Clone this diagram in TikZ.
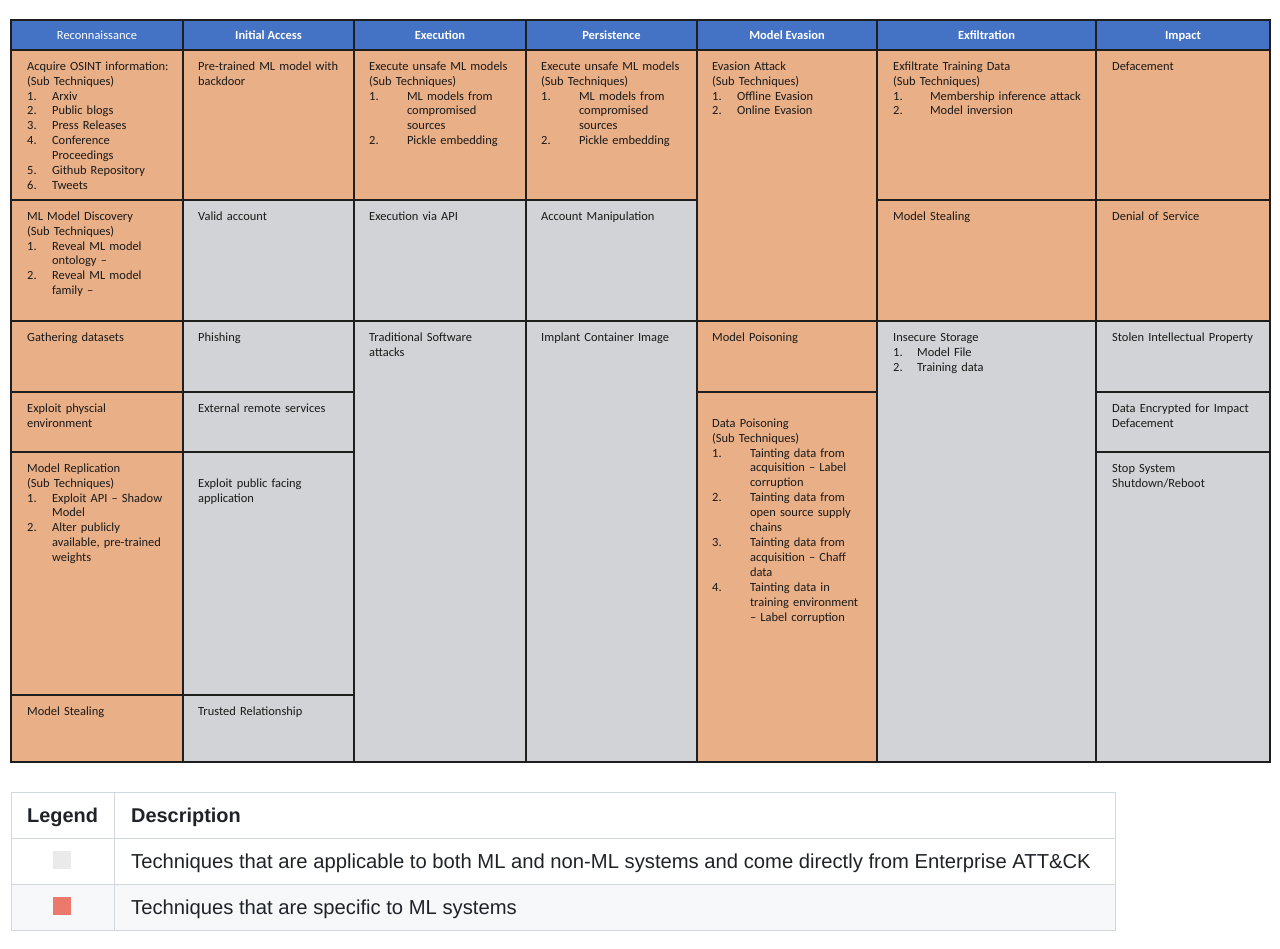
\documentclass[tikz,border=0pt]{standalone}
\usepackage{fontspec}
\setmainfont{Carlito}
\newfontfamily\ghfont{Liberation Sans}
\usepackage{xcolor}
\usepackage{tikz}

\definecolor{hdrblue}{HTML}{4472C4}
\definecolor{mlorange}{HTML}{E9AF87}
\definecolor{entgray}{HTML}{D2D3D6}
\definecolor{gridline}{HTML}{1E1E1E}
\definecolor{celltext}{HTML}{1A1A1A}
\definecolor{ghborder}{HTML}{D0D7DE}
\definecolor{ghrow}{HTML}{F6F8FA}
\definecolor{ghtext}{HTML}{1F2328}
\definecolor{keygray}{HTML}{EAEAEA}
\definecolor{keyred}{HTML}{EB7A6C}

% numbered sub technique: indent, number, lines
\newcommand{\tnum}[3][25pt]{\par\noindent
  \makebox[#1][l]{\rule{0pt}{10.5pt}#2}%
  \parbox[t]{\dimexpr\linewidth-#1\relax}{\raggedright #3\rule[-3.5pt]{0pt}{3.5pt}}}

\begin{document}
\begin{tikzpicture}[
  x = 1bp, y = -1bp,
  cell/.style = {draw = gridline, line width = 1.3pt},
  mlcell/.style = {cell, fill = mlorange},
  entcell/.style = {cell, fill = entgray},
  hdrcell/.style = {cell, fill = hdrblue},
  hdrtext/.style = {anchor = base, inner sep = 0pt, text = white,
                    font = \fontsize{12.5}{15}\selectfont},
  txt/.style = {anchor = north west, inner sep = 0pt, align = left,
                text width = #1, text = celltext,
                font = \fontsize{12.5}{15}\selectfont,
                execute at begin node = \rule{0pt}{10.5pt}},
  txt/.default = 146pt,
  ghline/.style = {draw = ghborder, line width = 1pt},
  ghtxt/.style = {anchor = base west, inner sep = 0pt, text = ghtext,
                  font = \ghfont\fontsize{20.3}{24}\selectfont},
  keybox/.style = {minimum size = 18bp, inner sep = 0pt}
  ]
  \useasboundingbox[fill = white] (0,0) rectangle (1280,949);

  % header row
  \foreach \xa/\xb/\name [count = \i] in {11/183/Reconnaissance,
      183/354/\textbf{Initial Access}, 354/526/\textbf{Execution},
      526/697/\textbf{Persistence}, 697/877/\textbf{Model Evasion},
      877/1096/\textbf{Exfiltration}, 1096/1270/\textbf{Impact}}
  {
    \draw[hdrcell] (\xa,20) rectangle (\xb,50);
    \node[hdrtext] (h\i) at ({(\xa+\xb)/2},39.5) {\name};
  }

  % technique cells
  \foreach \xa/\ya/\xb/\yb/\kind in {
      11/50/183/200/mlcell, 11/200/183/321/mlcell, 11/321/183/392/mlcell,
      11/392/183/452/mlcell, 11/452/183/695/mlcell, 11/695/183/762/mlcell,
      183/50/354/200/mlcell, 183/200/354/321/entcell, 183/321/354/392/entcell,
      183/392/354/452/entcell, 183/452/354/695/entcell, 183/695/354/762/entcell,
      354/50/526/200/mlcell, 354/200/526/321/entcell, 354/321/526/762/entcell,
      526/50/697/200/mlcell, 526/200/697/321/entcell, 526/321/697/762/entcell,
      697/50/877/321/mlcell, 697/321/877/392/mlcell, 697/392/877/762/mlcell,
      877/50/1096/200/mlcell, 877/200/1096/321/mlcell, 877/321/1096/762/entcell,
      1096/50/1270/200/mlcell, 1096/200/1270/321/mlcell,
      1096/321/1270/392/entcell, 1096/392/1270/452/entcell,
      1096/452/1270/762/entcell}
    \draw[\kind] (\xa,\ya) rectangle (\xb,\yb);

  % Reconnaissance
  \node[txt] (osint) at (27,59.5) {Acquire OSINT information:\\(Sub Techniques)
    \tnum{1.}{Arxiv}\tnum{2.}{Public blogs}\tnum{3.}{Press Releases}
    \tnum{4.}{Conference\\Proceedings}\tnum{5.}{Github Repository}
    \tnum{6.}{Tweets}};
  \node[txt] (discovery) at (27,209.5) {ML Model Discovery\\(Sub Techniques)
    \tnum{1.}{Reveal ML model\\ontology –}\tnum{2.}{Reveal ML model\\family –}};
  \node[txt] (datasets) at (27,330.5) {Gathering datasets};
  \node[txt] (physical) at (27,401.5) {Exploit physcial\\environment};
  \node[txt] (replication) at (27,461.5) {Model Replication\\(Sub Techniques)
    \tnum{1.}{Exploit API – Shadow\\Model}
    \tnum{2.}{Alter publicly\\available, pre-trained\\weights}};
  \node[txt] (reconsteal) at (27,704.5) {Model Stealing};

  % Initial Access
  \node[txt] (backdoor) at (198,59.5) {Pre-trained ML model with\\backdoor};
  \node[txt] (valid) at (198,209.5) {Valid account};
  \node[txt] (phishing) at (198,330.5) {Phishing};
  \node[txt] (remote) at (198,401.5) {External remote services};
  \node[txt] (facing) at (198,476.5) {Exploit public facing\\application};
  \node[txt] (trusted) at (198,704.5) {Trusted Relationship};

  % Execution
  \node[txt] (unsafeexec) at (369,59.5) {Execute unsafe ML models\\(Sub Techniques)
    \tnum[38pt]{1.}{ML models from\\compromised\\sources}
    \tnum[38pt]{2.}{Pickle embedding}};
  \node[txt] (api) at (369,209.5) {Execution via API};
  \node[txt] (software) at (369,330.5) {Traditional Software\\attacks};

  % Persistence
  \node[txt] (unsafepers) at (541,59.5) {Execute unsafe ML models\\(Sub Techniques)
    \tnum[38pt]{1.}{ML models from\\compromised\\sources}
    \tnum[38pt]{2.}{Pickle embedding}};
  \node[txt] (account) at (541,209.5) {Account Manipulation};
  \node[txt] (container) at (541,330.5) {Implant Container Image};

  % Model Evasion
  \node[txt=154pt] (evasion) at (712,59.5) {Evasion Attack\\(Sub Techniques)
    \tnum{1.}{Offline Evasion}\tnum{2.}{Online Evasion}};
  \node[txt=154pt] (modelpois) at (712,330.5) {Model Poisoning};
  \node[txt=154pt] (datapois) at (712,416.5) {Data Poisoning\\(Sub Techniques)
    \tnum[38pt]{1.}{Tainting data from\\acquisition – Label\\corruption}
    \tnum[38pt]{2.}{Tainting data from\\open source supply\\chains}
    \tnum[38pt]{3.}{Tainting data from\\acquisition – Chaff\\data}
    \tnum[38pt]{4.}{Tainting data in\\training environment\\– Label corruption}};

  % Exfiltration
  \node[txt=194pt] (training) at (893,59.5) {Exfiltrate Training Data\\(Sub Techniques)
    \tnum[37pt]{1.}{Membership inference attack}
    \tnum[37pt]{2.}{Model inversion}};
  \node[txt=194pt] (exfilsteal) at (893,209.5) {Model Stealing};
  \node[txt=194pt] (storage) at (893,330.5) {Insecure Storage
    \tnum[24pt]{1.}{Model File}\tnum[24pt]{2.}{Training data}};

  % Impact
  \node[txt=150pt] (deface) at (1112,59.5) {Defacement};
  \node[txt=150pt] (dos) at (1112,209.5) {Denial of Service};
  \node[txt=150pt] (stolen) at (1112,330.5) {Stolen Intellectual Property};
  \node[txt=150pt] (encrypted) at (1112,401.5) {Data Encrypted for Impact\\Defacement};
  \node[txt=150pt] (shutdown) at (1112,461.5) {Stop System\\Shutdown/Reboot};

  % legend table
  \fill[ghrow] (11,884) rectangle (1115,930);
  \draw[ghline] (11,792) rectangle (1115,930);
  \draw[ghline] (11,838) -- (1115,838);
  \draw[ghline] (11,884) -- (1115,884);
  \draw[ghline] (114,792) -- (114,930);
  \node[ghtxt, anchor = base, font = \ghfont\fontsize{20}{24}\selectfont] (legend) at (62.5,822) {\textbf{Legend}};
  \node[ghtxt, font = \ghfont\fontsize{20}{24}\selectfont] (descr) at (131,822) {\textbf{Description}};
  \node[keybox, fill = keygray] (keyent) at (62,860) {};
  \node[ghtxt] (enttext) at (131,868) {Techniques that are applicable to both ML and non-ML systems and come directly from Enterprise ATT\&CK};
  \node[keybox, fill = keyred] (keyml) at (62,906) {};
  \node[ghtxt] (mltext) at (131,914) {Techniques that are specific to ML systems};
\end{tikzpicture}
\end{document}
